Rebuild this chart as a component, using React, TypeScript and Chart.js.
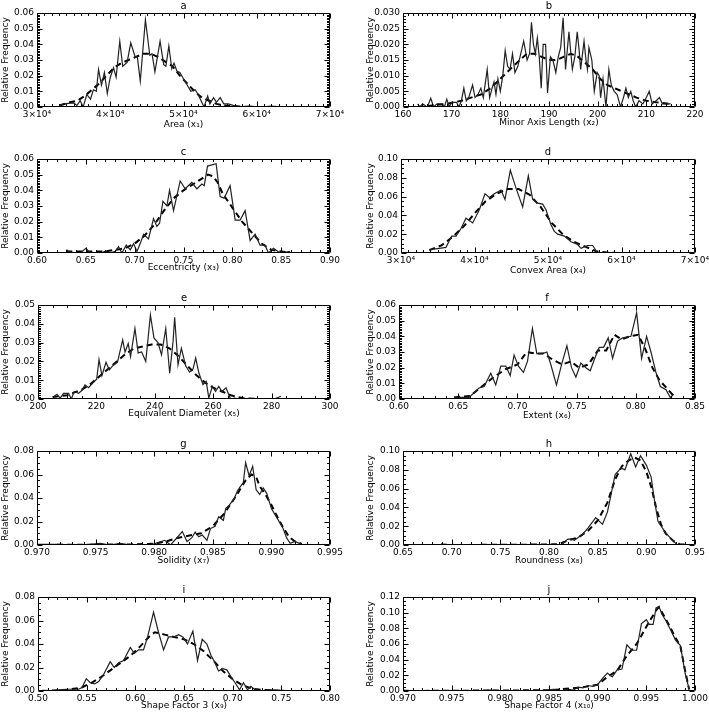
import React, { useEffect, useRef } from "react";
import { Chart, registerables } from "chart.js";

Chart.register(...registerables);

// ---------------- data (x, relative frequency) ----------------
const areaSolid = [[33080,0.001],[33630,0.002],[35000,0.0026],[35450,0.001],[35900,0.004],[36300,0.0],[36800,0.008],[37300,0.005],[37700,0.011],[38100,0.010],[38400,0.024],[38800,0.014],[39200,0.022],[39600,0.0086],[40000,0.019],[40450,0.025],[40800,0.019],[41300,0.042],[41700,0.026],[42300,0.0285],[42800,0.041],[43400,0.032],[43700,0.032],[44100,0.0165],[44800,0.0557],[45400,0.033],[45700,0.034],[46100,0.0225],[46800,0.042],[47300,0.027],[47600,0.026],[48000,0.039],[48400,0.0245],[48700,0.028],[49100,0.023],[49500,0.022],[50000,0.018],[50500,0.014],[51000,0.010],[51600,0.011],[52000,0.008],[52300,0.005],[52800,0.0],[53300,0.007],[53600,0.002],[54100,0.006],[54500,0.003],[55000,0.006],[55500,0.002],[56100,0.002],[56800,0.001],[57700,0.0],[59000,0.0005],[60500,0.0],[62000,0.0005],[63600,0.0]];
const areaFit = [[33080,0.001],[34500,0.003],[35500,0.004],[36500,0.007],[37500,0.011],[38500,0.015],[39500,0.020],[40500,0.025],[41500,0.028],[42500,0.030],[43500,0.032],[44500,0.034],[45500,0.034],[46500,0.032],[47500,0.029],[48500,0.026],[49500,0.020],[50500,0.015],[51500,0.010],[52500,0.006],[53500,0.004],[54500,0.002],[55500,0.001],[57000,0.0005],[59000,0],[61000,0],[63600,0]];

const minorAxisSolid = [[163,0.001],[163.5,0.0],[164,0.001],[165,0.0],[165.7,0.0028],[166.3,0.0],[167,0.001],[168,0.001],[168.5,0.0],[169,0.0025],[169.5,0.0],[170,0.0015],[171,0.0015],[171.5,0.0],[172,0.002],[172.5,0.006],[173,0.002],[173.5,0.003],[174.3,0.007],[174.8,0.003],[175.4,0.004],[176,0.006],[176.5,0.003],[177.3,0.012],[177.8,0.003],[178.3,0.006],[178.7,0.008],[179.1,0.004],[179.5,0.009],[180,0.005],[180.5,0.010],[181,0.018],[181.5,0.013],[182,0.012],[182.5,0.017],[183,0.011],[183.6,0.013],[184.2,0.017],[184.8,0.021],[185.5,0.015],[186,0.017],[186.4,0.027],[186.8,0.020],[187.2,0.017],[187.6,0.022],[188,0.016],[188.4,0.006],[188.8,0.020],[189.3,0.020],[189.7,0.0045],[190.3,0.016],[190.8,0.015],[191.4,0.011],[191.9,0.016],[192.4,0.019],[192.9,0.0285],[193.4,0.012],[194.1,0.024],[194.5,0.017],[194.8,0.012],[195.3,0.016],[195.8,0.024],[196.2,0.018],[196.5,0.012],[197.2,0.021],[197.6,0.015],[197.9,0.012],[198.2,0.019],[198.8,0.015],[199.3,0.005],[199.9,0.011],[200.3,0.010],[200.6,0.003],[201.1,0.009],[201.7,0.0],[202.3,0.012],[202.8,0.007],[203.4,0.005],[204,0.004],[204.7,0.0],[205.3,0.003],[205.8,0.006],[206.3,0.003],[206.8,0.005],[207.3,0.002],[207.8,0.0],[208.5,0.002],[209.3,0.001],[210,0.003],[210.6,0.005],[211.2,0.001],[212,0.002],[212.7,0.003],[213.3,0.001],[214,0.001],[215,0.001]];
const minorAxisFit = [[163,0.0],[166,0.0005],[169,0.001],[172,0.002],[174,0.003],[176,0.004],[178,0.006],[180,0.009],[182,0.012],[184,0.015],[185.5,0.017],[187,0.017],[188.5,0.016],[190,0.015],[191.5,0.015],[193,0.016],[194.5,0.017],[196,0.016],[197.5,0.014],[199,0.012],[200.5,0.009],[202,0.007],[203.5,0.006],[205,0.005],[206.5,0.004],[208,0.003],[210,0.002],[212,0.0015],[215,0.001]];

const eccSolid = [[0.630,0.002],[0.6358,0.0],[0.6443,0.0],[0.6501,0.003],[0.6545,0.0],[0.6648,0.0],[0.6699,0.001],[0.675,0.0],[0.6801,0.001],[0.6835,0.004],[0.6869,0.0],[0.6914,0.005],[0.6955,0.002],[0.6989,0.006],[0.7023,0.001],[0.7057,0.006],[0.7091,0.012],[0.7142,0.009],[0.7193,0.022],[0.7227,0.017],[0.7255,0.019],[0.7289,0.033],[0.733,0.030],[0.7357,0.040],[0.7398,0.027],[0.7466,0.046],[0.7517,0.041],[0.7585,0.045],[0.7637,0.041],[0.7688,0.044],[0.7712,0.043],[0.7746,0.0555],[0.7834,0.057],[0.7875,0.036],[0.7916,0.035],[0.7977,0.043],[0.8029,0.021],[0.808,0.021],[0.8131,0.027],[0.8182,0.008],[0.8233,0.012],[0.8284,0.005],[0.8335,0.005],[0.837,0.0],[0.8421,0.003],[0.8489,0.0],[0.8591,0.001]];
const eccFit = [[0.630,0.001],[0.65,0.001],[0.67,0.001],[0.68,0.002],[0.69,0.003],[0.70,0.006],[0.71,0.011],[0.72,0.018],[0.73,0.027],[0.74,0.035],[0.75,0.040],[0.76,0.044],[0.77,0.048],[0.775,0.050],[0.78,0.049],[0.785,0.045],[0.79,0.038],[0.80,0.029],[0.81,0.020],[0.82,0.013],[0.83,0.006],[0.84,0.002],[0.85,0.001],[0.86,0.0]];

const convexSolid = [[33855,0.0035],[35215,0.005],[36122,0.006],[36893,0.018],[37483,0.018],[38163,0.026],[38844,0.037],[39751,0.032],[40658,0.046],[41429,0.063],[42018,0.059],[42698,0.063],[43605,0.067],[44150,0.057],[44875,0.088],[45646,0.069],[46553,0.049],[47324,0.082],[47914,0.057],[48594,0.053],[49274,0.052],[49728,0.046],[50408,0.030],[50862,0.023],[51315,0.020],[52222,0.018],[53129,0.012],[54036,0.009],[54490,0.005],[55397,0.008],[56077,0.008],[56757,0.0],[57664,0.0005],[59932,0.0],[62200,0.0005],[63560,0.0]];
const convexFit = [[33855,0.003],[35500,0.008],[37000,0.017],[38500,0.028],[40000,0.042],[41500,0.055],[43000,0.063],[44500,0.068],[46000,0.068],[47500,0.062],[49000,0.049],[50500,0.032],[52000,0.020],[53500,0.012],[55000,0.007],[56500,0.002],[58000,0.0005],[60000,0],[63560,0]];

const eqDiamSolid = [[205.1,0.001],[206.5,0.0025],[207.6,0.0005],[208.75,0.003],[210.5,0.003],[211.4,0.0],[212.4,0.004],[213.9,0.003],[215,0.0045],[216.1,0.0075],[217.3,0.006],[218.75,0.0085],[220.1,0.0105],[220.9,0.021],[221.9,0.0125],[223.3,0.0195],[224.4,0.0155],[225.8,0.018],[227.2,0.0195],[227.8,0.0235],[229,0.0315],[229.8,0.025],[230.9,0.0295],[231.7,0.0225],[233.2,0.0375],[234.3,0.0245],[235.5,0.025],[236.9,0.02],[238.5,0.0447],[239.7,0.0325],[241.1,0.030],[242.3,0.0235],[243.75,0.0375],[245.1,0.0137],[246.25,0.0305],[246.8,0.0435],[247.95,0.0182],[249.1,0.027],[250.6,0.0175],[251.9,0.0143],[253.1,0.016],[254,0.0218],[255.1,0.0138],[256.5,0.0076],[257.6,0.0094],[258.5,0.0005],[259.7,0.0067],[260.8,0.004],[261.9,0.0067],[263,0.004],[264.4,0.006],[265.9,0.0],[267.3,0.0005],[269,0],[272.4,0],[276.9,0],[280.9,0.0],[283.2,0.0015]];
const eqDiamFit = [[205,0.001],[210,0.002],[215,0.005],[218,0.008],[221,0.012],[224,0.016],[227,0.020],[230,0.024],[233,0.027],[236,0.028],[239,0.029],[242,0.029],[245,0.027],[248,0.023],[251,0.018],[254,0.013],[257,0.009],[260,0.006],[263,0.004],[266,0.002],[270,0.0005],[275,0],[283.2,0]];

const extentSolid = [[0.6465,0.001],[0.6592,0.001],[0.6634,0.004],[0.6676,0.007],[0.6719,0.008],[0.6775,0.0165],[0.6817,0.009],[0.686,0.021],[0.6902,0.021],[0.6939,0.015],[0.6972,0.028],[0.7009,0.021],[0.7051,0.017],[0.7085,0.024],[0.7127,0.045],[0.7164,0.029],[0.7212,0.029],[0.7249,0.030],[0.7282,0.022],[0.733,0.009],[0.7373,0.022],[0.7418,0.034],[0.7457,0.020],[0.7494,0.014],[0.7536,0.023],[0.7578,0.020],[0.7615,0.018],[0.7649,0.025],[0.7691,0.033],[0.7728,0.033],[0.7767,0.039],[0.7804,0.026],[0.7846,0.037],[0.7888,0.039],[0.7959,0.040],[0.8007,0.055],[0.8049,0.026],[0.8091,0.040],[0.8128,0.030],[0.817,0.017],[0.8207,0.008],[0.8255,0.006],[0.8291,0.001],[0.832,0.003]];
const extentFit = [[0.6465,0.001],[0.66,0.002],[0.67,0.008],[0.68,0.014],[0.69,0.019],[0.70,0.022],[0.708,0.030],[0.715,0.029],[0.722,0.029],[0.73,0.025],[0.738,0.022],[0.745,0.024],[0.752,0.020],[0.76,0.022],[0.768,0.031],[0.775,0.031],[0.782,0.041],[0.788,0.038],[0.795,0.040],[0.802,0.041],[0.808,0.032],[0.814,0.020],[0.82,0.012],[0.826,0.007],[0.832,0.002]];

const soliditySolid = [[0.9700,0.0005],[0.9720,0.0005],[0.9730,0.0],[0.9745,0.0005],[0.9754,0.0015],[0.9762,0.0],[0.9771,0.0015],[0.9780,0.0],[0.9788,0.0005],[0.9795,0.0],[0.9800,0.001],[0.9809,0.004],[0.9814,0.0],[0.9824,0.0115],[0.9828,0.003],[0.9832,0.006],[0.9835,0.011],[0.9838,0.007],[0.9841,0.0085],[0.9845,0.004],[0.9848,0.014],[0.9852,0.016],[0.9855,0.024],[0.9859,0.021],[0.9861,0.031],[0.9864,0.034],[0.9868,0.039],[0.9871,0.046],[0.9873,0.049],[0.9876,0.053],[0.9878,0.070],[0.9881,0.059],[0.9884,0.067],[0.9887,0.047],[0.9890,0.043],[0.9893,0.0485],[0.9896,0.044],[0.9900,0.031],[0.9906,0.021],[0.9910,0.014],[0.9913,0.006],[0.9916,0.0015],[0.9920,0.003],[0.9926,0.0005]];
const solidityFit = [[0.970,0],[0.978,0.0005],[0.980,0.001],[0.981,0.003],[0.982,0.006],[0.983,0.008],[0.984,0.010],[0.985,0.016],[0.986,0.027],[0.987,0.042],[0.9878,0.055],[0.9883,0.060],[0.9887,0.058],[0.989,0.050],[0.9895,0.043],[0.990,0.034],[0.9905,0.024],[0.991,0.015],[0.9915,0.007],[0.992,0.003],[0.9926,0.001]];

const roundSolid = [[0.689,0.001],[0.694,0.0],[0.70,0.0005],[0.71,0.0],[0.75,0.0],[0.78,0.0],[0.80,0.0005],[0.805,0.001],[0.81,0.0],[0.814,0.001],[0.819,0.006],[0.823,0.0065],[0.826,0.005],[0.83,0.008],[0.835,0.012],[0.84,0.018],[0.848,0.029],[0.855,0.022],[0.86,0.035],[0.868,0.075],[0.874,0.082],[0.878,0.080],[0.884,0.097],[0.889,0.083],[0.894,0.095],[0.90,0.085],[0.905,0.072],[0.908,0.05],[0.912,0.025],[0.92,0.013],[0.926,0.006],[0.932,0.0],[0.938,0.001],[0.942,0.0]];
const roundFit = [[0.689,0.0005],[0.70,0],[0.80,0.0005],[0.81,0.001],[0.82,0.005],[0.83,0.008],[0.84,0.015],[0.85,0.026],[0.86,0.045],[0.868,0.070],[0.875,0.084],[0.882,0.090],[0.888,0.093],[0.894,0.090],[0.90,0.078],[0.905,0.062],[0.91,0.040],[0.915,0.022],[0.92,0.012],[0.928,0.004],[0.935,0.0005],[0.942,0]];

const sf3Solid = [[0.5041,0.0005],[0.5161,0.0],[0.5212,0.001],[0.5298,0.0015],[0.5417,0.0015],[0.5452,0.003],[0.5496,0.0105],[0.5537,0.007],[0.5582,0.006],[0.5623,0.008],[0.5674,0.014],[0.5742,0.025],[0.5783,0.020],[0.5828,0.024],[0.5879,0.026],[0.5948,0.037],[0.5989,0.032],[0.6033,0.035],[0.6084,0.035],[0.6126,0.046],[0.6187,0.067],[0.6238,0.050],[0.629,0.035],[0.6341,0.046],[0.6392,0.046],[0.6444,0.048],[0.6488,0.046],[0.6536,0.040],[0.6591,0.051],[0.6639,0.026],[0.6687,0.044],[0.6735,0.040],[0.6779,0.030],[0.6813,0.025],[0.6854,0.017],[0.6899,0.019],[0.694,0.018],[0.6984,0.012],[0.7025,0.007],[0.707,0.001],[0.7111,0.007],[0.7152,0.001],[0.7186,0.004],[0.7231,0.001],[0.7316,0.0],[0.7385,0.001],[0.7521,0.0005],[0.759,0.0],[0.7675,0.0]];
const sf3Fit = [[0.504,0],[0.53,0.001],[0.545,0.003],[0.555,0.007],[0.565,0.012],[0.575,0.018],[0.585,0.024],[0.595,0.030],[0.605,0.038],[0.615,0.047],[0.62,0.050],[0.63,0.048],[0.64,0.046],[0.65,0.044],[0.66,0.040],[0.67,0.034],[0.68,0.026],[0.69,0.017],[0.70,0.010],[0.71,0.005],[0.72,0.002],[0.73,0.001],[0.75,0.0],[0.7675,0]];

const sf4Solid = [[0.9700,0.001],[0.9715,0.0],[0.9730,0.0005],[0.9745,0.0],[0.9760,0.0005],[0.9775,0.0],[0.9790,0.001],[0.9805,0.0],[0.9820,0.0005],[0.9835,0.0],[0.9848,0.001],[0.9855,0.002],[0.9862,0.0],[0.9870,0.002],[0.9875,0.001],[0.9880,0.005],[0.9885,0.004],[0.9890,0.007],[0.9895,0.006],[0.9900,0.008],[0.9905,0.016],[0.9910,0.023],[0.9915,0.018],[0.9920,0.027],[0.9925,0.028],[0.9930,0.059],[0.9935,0.052],[0.9940,0.052],[0.9945,0.086],[0.9950,0.091],[0.9953,0.085],[0.9957,0.085],[0.9960,0.106],[0.9963,0.108],[0.9966,0.098],[0.9970,0.090],[0.9975,0.078],[0.9980,0.065],[0.9985,0.058],[0.9990,0.022],[0.9994,0.002]];
const sf4Fit = [[0.970,0],[0.985,0.001],[0.988,0.004],[0.990,0.008],[0.991,0.018],[0.992,0.026],[0.993,0.045],[0.994,0.060],[0.995,0.082],[0.996,0.103],[0.9963,0.107],[0.997,0.092],[0.998,0.068],[0.9985,0.057],[0.999,0.025],[0.9994,0.002]];

// ---------------- tick labels ----------------
const areaXTickValues = [30000, 40000, 50000, 60000, 70000];
const areaXTickLabels = ["3×10⁴", "4×10⁴", "5×10⁴", "6×10⁴", "7×10⁴"];
const minorAxisXLabels = ["160", "170", "180", "190", "200", "210", "220"];
const eccXLabels = ["0.60", "0.65", "0.70", "0.75", "0.80", "0.85", "0.90"];
const eqDiamXLabels = ["200", "220", "240", "260", "280", "300"];
const extentXLabels = ["0.60", "0.65", "0.70", "0.75", "0.80", "0.85"];
const solidityXLabels = ["0.970", "0.975", "0.980", "0.985", "0.990", "0.995"];
const roundXLabels = ["0.65", "0.70", "0.75", "0.80", "0.85", "0.90", "0.95"];
const sf3XLabels = ["0.50", "0.55", "0.60", "0.65", "0.70", "0.75", "0.80"];
const sf4XLabels = ["0.970", "0.975", "0.980", "0.985", "0.990", "0.995", "1.000"];

const yLabels006 = ["0.00", "0.01", "0.02", "0.03", "0.04", "0.05", "0.06"];
const yLabels0030 = ["0.000", "0.005", "0.010", "0.015", "0.020", "0.025", "0.030"];
const yLabels010 = ["0.00", "0.02", "0.04", "0.06", "0.08", "0.10"];
const yLabels005 = ["0.00", "0.01", "0.02", "0.03", "0.04", "0.05"];
const yLabels008 = ["0.00", "0.02", "0.04", "0.06", "0.08"];
const yLabels012 = ["0.00", "0.02", "0.04", "0.06", "0.08", "0.10", "0.12"];

const panelLetters = ["a", "b", "c", "d", "e", "f", "g", "h", "i", "j"];
const xTitles = [
  "Area (x₁)", "Minor Axis Length (x₂)", "Eccentricity (x₃)", "Convex Area (x₄)",
  "Equivalent Diameter (x₅)", "Extent (x₆)", "Solidity (x₇)", "Roundness (x₈)",
  "Shape Factor 3 (x₉)", "Shape Factor 4 (x₁₀)",
];
const yTitle = "Relative Frequency";

// ---------------- layout ----------------
const FONT = "'DejaVu Sans', 'Liberation Sans', sans-serif";
const CANVAS_H = 146;
const TITLE_H = 13;
const PLOT_H = 94;
const rowTops = [13, 159, 305, 451, 597];

type Panel = {
  solid: number[][]; fit: number[][];
  xVals: number[]; xLabels: string[]; xMinor: number;
  yLabels: string[]; yMinor: number;
  left: number; plotL: number; plotR: number; width: number;
  top: number; xTitleOff: number; yTitlePad: number;
};

const num = (a: string[]) => a.map((s) => parseFloat(s));

const mk = (i: number, solid: number[][], fit: number[][], xVals: number[], xLabels: string[], xMinor: number, yL: string[], yMinor: number, plotL: number, xTitleOff: number): Panel => {
  const col = i % 2;
  return {
    solid, fit, xVals, xLabels, xMinor, yLabels: yL, yMinor,
    left: col === 0 ? 0 : 354,
    width: col === 0 ? 354 : 355,
    plotL,
    plotR: col === 0 ? 330 : 341,
    top: rowTops[Math.floor(i / 2)],
    xTitleOff,
    yTitlePad: col === 0 ? 0 : 11,
  };
};

const panels: Panel[] = [
  mk(0, areaSolid, areaFit, areaXTickValues, areaXTickLabels, 10, yLabels006, 10, 37, 17.5),
  mk(1, minorAxisSolid, minorAxisFit, num(minorAxisXLabels), minorAxisXLabels, 10, yLabels0030, 5, 49, 15.5),
  mk(2, eccSolid, eccFit, num(eccXLabels), eccXLabels, 5, yLabels006, 10, 37, 14.5),
  mk(3, convexSolid, convexFit, areaXTickValues, areaXTickLabels, 10, yLabels010, 4, 47, 17.4),
  mk(4, eqDiamSolid, eqDiamFit, num(eqDiamXLabels), eqDiamXLabels, 4, yLabels005, 10, 38, 15),
  mk(5, extentSolid, extentFit, num(extentXLabels), extentXLabels, 5, yLabels006, 10, 45, 17),
  mk(6, soliditySolid, solidityFit, num(solidityXLabels), solidityXLabels, 5, yLabels008, 4, 37, 16),
  mk(7, roundSolid, roundFit, num(roundXLabels), roundXLabels, 5, yLabels010, 4, 49, 16),
  mk(8, sf3Solid, sf3Fit, num(sf3XLabels), sf3XLabels, 5, yLabels008, 4, 38, 15),
  mk(9, sf4Solid, sf4Fit, num(sf4XLabels), sf4XLabels, 5, yLabels012, 4, 49, 14.5),
];

// frame with inward major/minor ticks on all four sides
const frameTicks = {
  id: "frameTicks",
  afterDatasetsDraw(chart: any, _args: any, opts: any) {
    const { ctx, chartArea: ca, scales } = chart;
    const xs = scales.x, ys = scales.y;
    const l = Math.round(ca.left) + 0.5, r = Math.round(ca.right) - 0.5;
    const t = Math.round(ca.top) + 0.5, b = Math.round(ca.bottom) - 0.5;
    ctx.save();
    ctx.strokeStyle = "#000";
    ctx.lineWidth = 1;
    ctx.beginPath();
    ctx.rect(l, t, r - l, b - t);
    const dx = (v: number, len: number) => {
      const p = Math.round(xs.getPixelForValue(v)) + 0.5;
      ctx.moveTo(p, b); ctx.lineTo(p, b - len);
      ctx.moveTo(p, t); ctx.lineTo(p, t + len);
    };
    const dy = (v: number, len: number) => {
      const p = Math.round(ys.getPixelForValue(v)) + 0.5;
      ctx.moveTo(l, p); ctx.lineTo(l + len, p);
      ctx.moveTo(r, p); ctx.lineTo(r - len, p);
    };
    const xt = xs.ticks.map((k: any) => k.value);
    for (let i = 0; i < xt.length; i++) {
      dx(xt[i], 5);
      if (i < xt.length - 1) for (let k = 1; k < opts.xMinor; k++) dx(xt[i] + ((xt[i + 1] - xt[i]) * k) / opts.xMinor, 2.5);
    }
    const yt = ys.ticks.map((k: any) => k.value);
    for (let i = 0; i < yt.length; i++) {
      dy(yt[i], 5);
      if (i < yt.length - 1) for (let k = 1; k < opts.yMinor; k++) dy(yt[i] + ((yt[i + 1] - yt[i]) * k) / opts.yMinor, 2.5);
    }
    ctx.stroke();
    ctx.restore();
  },
};

function PanelChart({ p, idx }: { p: Panel; idx: number }) {
  const ref = useRef<HTMLCanvasElement | null>(null);
  useEffect(() => {
    if (!ref.current) return;
    const yVals = num(p.yLabels);
    const xAxisH = CANVAS_H - TITLE_H - PLOT_H;
    const titleBottomPad = CANVAS_H - (TITLE_H + PLOT_H + p.xTitleOff) - 5.4;
    const chart = new Chart(ref.current, {
      type: "line",
      data: {
        datasets: [
          {
            data: p.solid.map(([x, y]) => ({ x, y })),
            borderColor: "#222", borderWidth: 1.2, pointRadius: 0, tension: 0, fill: false,
          },
          {
            data: p.fit.map(([x, y]) => ({ x, y })),
            borderColor: "#000", borderWidth: 2, borderDash: [6, 4], pointRadius: 0, tension: 0, fill: false,
          },
        ],
      },
      options: {
        responsive: false,
        animation: false,
        events: [],
        layout: { padding: { left: 0, right: p.width - p.plotR, top: 0, bottom: 0 } },
        plugins: {
          legend: { display: false },
          tooltip: { enabled: false },
          title: {
            display: true, text: panelLetters[idx], fullSize: false, color: "#000",
            font: { family: FONT, size: 10, lineHeight: 1.2, weight: "normal" },
            padding: { top: 0, bottom: 1 },
          },
          frameTicks: { xMinor: p.xMinor, yMinor: p.yMinor },
        } as any,
        scales: {
          x: {
            type: "linear", min: p.xVals[0], max: p.xVals[p.xVals.length - 1],
            grid: { display: false, drawTicks: false }, border: { display: false },
            ticks: {
              autoSkip: false, maxRotation: 0, padding: 2, color: "#000",
              font: { family: FONT, size: 9 },
              callback: (_v: any, i: number) => p.xLabels[i],
            },
            afterBuildTicks: (s: any) => { s.ticks = p.xVals.map((value) => ({ value })); },
            afterFit: (s: any) => { s.height = xAxisH; s.paddingLeft = 0; s.paddingRight = 0; },
            title: {
              display: true, text: xTitles[idx], color: "#000",
              font: { family: FONT, size: 9, lineHeight: 1.2 },
              padding: { top: 0, bottom: titleBottomPad },
            },
          },
          y: {
            type: "linear", min: 0, max: yVals[yVals.length - 1],
            grid: { display: false, drawTicks: false }, border: { display: false },
            ticks: {
              autoSkip: false, padding: 3, color: "#000",
              font: { family: FONT, size: 9 },
              callback: (_v: any, i: number) => p.yLabels[i],
            },
            afterBuildTicks: (s: any) => { s.ticks = yVals.map((value) => ({ value })); },
            afterFit: (s: any) => { s.width = p.plotL; s.paddingTop = 0; s.paddingBottom = 0; },
            title: {
              display: true, text: yTitle, color: "#000",
              font: { family: FONT, size: 9, lineHeight: 1.2 },
              padding: { top: p.yTitlePad, bottom: 0 },
            },
          },
        },
      } as any,
      plugins: [frameTicks],
    });
    return () => chart.destroy();
  }, [p, idx]);
  return (
    <canvas
      ref={ref}
      width={p.width}
      height={CANVAS_H}
      style={{ position: "absolute", left: p.left, top: p.top - TITLE_H, width: p.width, height: CANVAS_H }}
    />
  );
}

export default function App() {
  return (
    <div style={{ position: "absolute", left: 0, top: 0, width: 709, height: 714, overflow: "hidden", background: "#fff" }}>
      {panels.map((p, i) => (
        <PanelChart key={i} p={p} idx={i} />
      ))}
    </div>
  );
}
